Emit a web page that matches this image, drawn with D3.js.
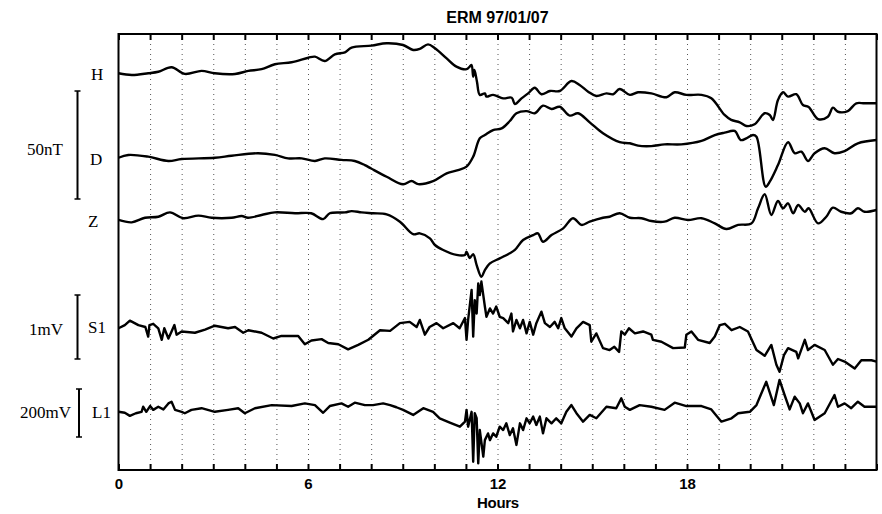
<!DOCTYPE html>
<html>
<head>
<meta charset="utf-8">
<script src="https://cdn.jsdelivr.net/npm/d3@7/dist/d3.min.js"></script>
<style>
  html, body { margin: 0; padding: 0; background: #fff; }
  svg { display: block; }
</style>
</head>
<body>
<svg id="chart" width="882" height="514"></svg>
<script>
// ---------------- DATA ----------------
const title = "ERM 97/01/07";
const xLabel = "Hours";
const hourTicks = d3.range(0, 25);        // every hour
const labelledTicks = [0, 6, 12, 18];
const traceNames = ["H", "D", "Z", "S1", "L1"];
const scaleLabels = ["50nT", "1mV", "200mV"];
const scaleValues = [50, 1, 200];

// H, D, Z in nT (relative), [hour, value]
const H = [[0,58.2],[0.42,57.4],[0.94,58.2],[1.26,58.9],[1.68,61.0],[2.10,57.9],[2.63,59.3],[3.05,58.2],[3.69,57.9],[4.11,59.3],[4.53,60.1],[4.95,62.4],[5.48,63.3],[6.01,65.4],[6.22,65.9],[6.53,63.9],[6.85,67.0],[7.17,67.9],[7.38,70.1],[8.01,71.0],[8.49,72.1],[9.01,71.3],[9.33,69.0],[9.54,69.5],[9.80,71.6],[10.02,69.8],[10.39,65.1],[10.70,61.3],[11.02,60.1],[11.12,61.3],[11.18,62.0],[11.23,56.6],[11.27,59.7],[11.35,54.3],[11.44,48.2],[11.60,48.9],[11.65,47.4],[11.86,48.2],[12.18,46.6],[12.45,46.9],[12.55,44.0],[12.76,46.6],[12.97,48.9],[13.18,51.5],[13.39,48.5],[13.66,50.0],[13.97,50.0],[14.34,54.6],[14.60,52.8],[14.87,49.7],[15.13,47.7],[15.45,48.9],[15.66,48.5],[15.87,50.9],[16.19,48.2],[16.45,49.4],[16.87,48.9],[17.35,47.1],[17.61,49.4],[17.98,48.2],[18.46,48.2],[18.77,46.6],[19.19,38.9],[19.40,36.6],[19.67,35.5],[19.88,33.8],[20.14,34.6],[20.46,39.7],[20.62,38.9],[20.72,36.6],[20.88,45.8],[21.04,49.4],[21.20,47.4],[21.46,48.5],[21.67,43.5],[21.85,42.6],[22.15,37.0],[22.46,38.1],[22.62,42.3],[22.78,40.4],[23.09,40.7],[23.36,44.3],[23.62,44.3],[24,44.3]];

const D = [[0,19.1],[0.31,20.4],[0.94,19.6],[1.58,17.6],[2.0,18.5],[3.05,19.1],[3.58,20.0],[4.42,21.2],[4.95,20.4],[5.37,18.8],[5.8,18.8],[6.22,17.6],[6.53,18.8],[7.06,18.1],[7.48,17.6],[7.8,15.7],[8.0,14.1],[8.49,10.3],[9.01,6.8],[9.28,8.3],[9.49,6.9],[9.96,8.3],[10.39,11.9],[10.75,13.4],[11.02,15.0],[11.23,19.6],[11.44,28.1],[11.6,29.6],[11.86,31.9],[12.13,32.7],[12.39,36.1],[12.6,39.7],[12.92,40.7],[13.18,39.7],[13.44,43.2],[13.71,41.7],[13.97,42.7],[14.29,38.6],[14.55,39.7],[14.92,35.5],[15.34,30.4],[15.87,26.3],[16.19,25.8],[16.45,24.7],[16.87,24.5],[17.29,25.3],[17.82,25.3],[18.46,26.9],[18.88,29.6],[19.19,30.7],[19.51,31.5],[19.7,27.3],[19.88,28.1],[20.09,29.6],[20.2,28.8],[20.49,5.7],[20.62,8.0],[20.88,15.7],[21.2,26.3],[21.41,21.2],[21.62,21.9],[21.83,17.6],[22.04,21.2],[22.36,23.5],[22.67,21.2],[22.99,22.2],[23.41,25.8],[24,27.3]];

const Z = [[0,-9.7],[0.42,-10.8],[0.84,-8.7],[1.26,-8.2],[1.63,-6.2],[2.05,-8.9],[2.53,-7.7],[2.95,-8.7],[3.58,-8.7],[3.9,-7.9],[4.1,-8.7],[4.53,-7.4],[4.95,-6.2],[5.59,-6.6],[6.1,-6.6],[6.48,-9.3],[6.69,-6.6],[7.17,-6.2],[7.38,-5.6],[7.7,-6.2],[8.06,-6.6],[8.49,-7.1],[8.91,-10.5],[9.33,-16.3],[9.54,-15.9],[9.86,-18.2],[10.02,-21.3],[10.28,-23.6],[10.7,-25.9],[10.97,-25.9],[11.02,-24.4],[11.12,-27.3],[11.23,-25.5],[11.34,-30.6],[11.49,-36.0],[11.6,-32.9],[11.76,-29.8],[12.07,-27.5],[12.39,-25.1],[12.55,-23.6],[12.81,-19.0],[13.13,-16.7],[13.28,-15.9],[13.44,-19.8],[13.71,-16.7],[14.08,-13.6],[14.39,-8.9],[14.66,-12.0],[14.92,-10.5],[15.34,-8.7],[15.55,-8.2],[15.87,-6.6],[16.19,-8.7],[16.56,-8.9],[16.87,-10.2],[17.29,-10.5],[17.61,-8.7],[18.03,-9.7],[18.46,-8.9],[18.88,-11.3],[19.25,-13.9],[19.62,-12.0],[20.04,-11.3],[20.25,-4.3],[20.46,2.2],[20.67,-7.4],[20.88,-0.9],[21.04,-4.3],[21.2,-2.0],[21.36,-6.6],[21.52,-2.8],[21.73,-5.9],[21.85,-4.3],[22.15,-11.3],[22.41,-8.2],[22.62,-4.0],[22.88,-5.9],[23.2,-6.6],[23.41,-4.3],[23.62,-5.9],[24,-5.1]];

// S1 in mV
const S1 = [[0,0.48],[0.2,0.53],[0.36,0.60],[0.63,0.53],[0.85,0.50],[0.94,0.35],[0.98,0.53],[1.1,0.55],[1.26,0.48],[1.37,0.30],[1.45,0.48],[1.58,0.32],[1.68,0.43],[1.77,0.53],[1.84,0.38],[2.0,0.43],[2.42,0.41],[2.74,0.46],[3.05,0.52],[3.47,0.48],[3.69,0.50],[3.95,0.41],[4.11,0.45],[4.53,0.41],[4.9,0.32],[5.16,0.36],[5.69,0.36],[5.9,0.23],[6.11,0.29],[6.43,0.31],[6.64,0.25],[6.96,0.23],[7.27,0.15],[7.59,0.22],[7.91,0.30],[8.28,0.45],[8.6,0.44],[8.91,0.56],[9.22,0.58],[9.44,0.50],[9.54,0.61],[9.7,0.38],[9.85,0.50],[10.07,0.56],[10.28,0.48],[10.6,0.56],[10.8,0.48],[10.97,0.64],[11.02,0.30],[11.07,0.61],[11.18,1.08],[11.23,0.35],[11.28,0.92],[11.34,0.71],[11.39,1.18],[11.44,1.00],[11.49,1.21],[11.6,0.82],[11.65,0.66],[11.76,0.79],[11.86,0.71],[11.96,0.82],[12.07,0.66],[12.18,0.64],[12.34,0.56],[12.44,0.71],[12.49,0.43],[12.6,0.61],[12.71,0.48],[12.81,0.61],[12.92,0.40],[13.02,0.58],[13.13,0.38],[13.23,0.56],[13.39,0.74],[13.5,0.56],[13.66,0.50],[13.81,0.58],[13.92,0.48],[14.02,0.64],[14.13,0.48],[14.34,0.35],[14.5,0.48],[14.71,0.58],[14.92,0.53],[14.97,0.27],[15.13,0.40],[15.34,0.17],[15.55,0.14],[15.7,0.19],[15.85,0.11],[15.92,0.43],[16.03,0.38],[16.16,0.48],[16.35,0.40],[16.61,0.43],[16.87,0.38],[16.92,0.30],[17.19,0.27],[17.56,0.17],[17.93,0.18],[17.98,0.38],[18.14,0.43],[18.35,0.30],[18.72,0.25],[18.88,0.35],[19.04,0.53],[19.2,0.55],[19.41,0.45],[19.67,0.50],[19.93,0.43],[20.2,0.14],[20.46,0.05],[20.67,0.22],[20.83,-0.09],[20.93,-0.20],[21.07,0.06],[21.2,0.17],[21.46,0.11],[21.52,0.01],[21.73,0.30],[21.83,0.14],[22.04,0.22],[22.36,0.14],[22.62,-0.09],[22.78,0.00],[22.99,-0.04],[23.31,-0.15],[23.52,-0.02],[23.84,-0.02],[24,-0.04]];

// L1 in mV
const L1 = [[0,105],[0.2,101],[0.36,88],[0.55,99],[0.73,105],[0.78,126],[0.88,105],[1.0,129],[1.1,113],[1.26,126],[1.42,115],[1.58,140],[1.68,147],[1.79,113],[2.0,105],[2.1,99],[2.31,113],[2.63,120],[3.05,105],[3.47,113],[3.79,120],[4.0,99],[4.32,120],[4.85,133],[5.48,129],[5.9,140],[6.22,133],[6.48,101],[6.69,129],[7.06,140],[7.27,126],[7.48,143],[7.8,133],[8.06,133],[8.38,140],[8.6,133],[8.8,124],[9.01,113],[9.33,92],[9.65,120],[9.96,105],[10.17,78],[10.49,60],[10.81,43],[10.97,64],[11.02,113],[11.07,43],[11.18,105],[11.23,-103],[11.28,99],[11.34,78],[11.39,-110],[11.44,29],[11.55,-82],[11.6,-13],[11.7,15],[11.76,-13],[11.86,15],[11.96,1],[12.07,43],[12.18,29],[12.28,57],[12.39,8],[12.49,36],[12.6,-33],[12.71,57],[12.81,29],[12.92,78],[13.02,57],[13.13,85],[13.23,50],[13.34,85],[13.44,15],[13.55,78],[13.71,57],[13.86,78],[14.02,57],[14.18,105],[14.34,133],[14.5,99],[14.71,64],[14.92,92],[15.13,78],[15.45,126],[15.76,120],[15.92,161],[16.03,126],[16.19,113],[16.5,133],[16.87,126],[17.29,113],[17.61,143],[17.98,129],[18.46,129],[18.77,115],[19.09,64],[19.41,78],[19.62,99],[19.99,105],[20.2,133],[20.51,230],[20.75,133],[20.93,238],[21.09,175],[21.25,115],[21.41,168],[21.57,140],[21.67,99],[21.83,140],[22.04,71],[22.36,99],[22.67,175],[22.78,126],[22.99,140],[23.2,120],[23.41,147],[23.62,126],[24,126]];

// ---------------- LAYOUT ----------------
const svg = d3.select("#chart");
const pLeft = 118.5, pRight = 876.5, pTop = 34, pBottom = 470;

const x = d3.scaleLinear().domain([0, 24]).range([pLeft, pRight]);
const yMag = d3.scaleLinear().domain([0, 50]).range([199, 91]);
const yS1 = d3.scaleLinear().domain([0, 1]).range([359, 295]);
const yL1 = d3.scaleLinear().domain([0, 200]).range([437, 389]);

// clip
svg.append("defs").append("clipPath").attr("id", "plotclip")
  .append("rect").attr("x", pLeft).attr("y", pTop).attr("width", pRight - pLeft).attr("height", pBottom - pTop);

// dotted hourly gridlines
const grid = svg.append("g").attr("transform", `translate(0,${pBottom})`)
  .call(d3.axisBottom(x).tickValues(hourTicks.slice(1, -1)).tickSize(-(pBottom - pTop)).tickFormat(""));
grid.select(".domain").remove();
grid.selectAll(".tick line").attr("stroke", "#555").attr("stroke-width", 1).attr("stroke-dasharray", "1,4");

// traces
const series = [
  { data: H, y: yMag, smooth: true }, { data: D, y: yMag, smooth: true }, { data: Z, y: yMag, smooth: true },
  { data: S1, y: yS1, smooth: false }, { data: L1, y: yL1, smooth: false }
];
const g = svg.append("g").attr("clip-path", "url(#plotclip)");
series.forEach(s => {
  const line = d3.line().x(d => x(d[0])).y(d => s.y(d[1]))
    .curve(s.smooth ? d3.curveCatmullRom.alpha(0.5) : d3.curveLinear);
  g.append("path").datum(s.data).attr("d", line)
    .attr("fill", "none").attr("stroke", "#000").attr("stroke-width", 2.4)
    .attr("stroke-linejoin", "round");
});

// axes: bottom with labels, top ticks only
const axB = svg.append("g").attr("transform", `translate(0,${pBottom})`)
  .call(d3.axisBottom(x).tickValues(hourTicks).tickSizeInner(-6).tickSizeOuter(0).tickPadding(8)
    .tickFormat(d => labelledTicks.includes(d) ? d : ""));
axB.select(".domain").remove();
axB.selectAll(".tick line").attr("stroke", "#000").attr("stroke-width", 2);
axB.selectAll(".tick text").attr("font-family", "Liberation Sans, Arial, sans-serif")
  .attr("font-size", 15).attr("font-weight", "bold").attr("fill", "#000").attr("dy", "0.71em");

const axT = svg.append("g").attr("transform", `translate(0,${pTop})`)
  .call(d3.axisTop(x).tickValues(hourTicks).tickSizeInner(-6).tickSizeOuter(0).tickFormat(""));
axT.select(".domain").remove();
axT.selectAll(".tick line").attr("stroke", "#000").attr("stroke-width", 2);

// frame
svg.append("rect").attr("x", pLeft).attr("y", pTop).attr("width", pRight - pLeft).attr("height", pBottom - pTop)
  .attr("fill", "none").attr("stroke", "#000").attr("stroke-width", 2);

// title & x label
svg.append("text").attr("x", (pLeft + pRight) / 2).attr("y", 23).attr("text-anchor", "middle")
  .attr("font-family", "Liberation Sans, Arial, sans-serif").attr("font-size", 16).attr("font-weight", "bold")
  .attr("letter-spacing", "0").text(title);
svg.append("text").attr("x", 498).attr("y", 508).attr("text-anchor", "middle")
  .attr("font-family", "Liberation Sans, Arial, sans-serif").attr("font-size", 15).attr("font-weight", "bold")
  .attr("letter-spacing", "-0.3").text(xLabel);

// trace labels
const serif = "Liberation Serif, Times New Roman, serif";
const traceLabelPos = [[91, 80], [90, 165], [88, 227], [88, 333], [92, 418]];
traceNames.forEach((n, i) => {
  svg.append("text").attr("x", traceLabelPos[i][0]).attr("y", traceLabelPos[i][1])
    .attr("font-family", serif).attr("font-size", 17).text(n);
});

// scale bars
const bars = [
  { y: yMag, v: scaleValues[0], bx: 77.5, tx: 63, ty: 155 },
  { y: yS1, v: scaleValues[1], bx: 77.5, tx: 63, ty: 335 },
  { y: yL1, v: scaleValues[2], bx: 79, tx: 71, ty: 418 }
];
bars.forEach((b, i) => {
  const y0 = b.y(0), y1 = b.y(b.v);
  svg.append("line").attr("x1", b.bx).attr("x2", b.bx).attr("y1", y0).attr("y2", y1)
    .attr("stroke", "#000").attr("stroke-width", 2);
  [y0, y1].forEach(yy => svg.append("line").attr("x1", b.bx - 3).attr("x2", b.bx + 3)
    .attr("y1", yy).attr("y2", yy).attr("stroke", "#000").attr("stroke-width", 1.5));
  svg.append("text").attr("x", b.tx).attr("y", b.ty).attr("text-anchor", "end")
    .attr("font-family", serif).attr("font-size", 17).text(scaleLabels[i]);
});
</script>
</body>
</html>
